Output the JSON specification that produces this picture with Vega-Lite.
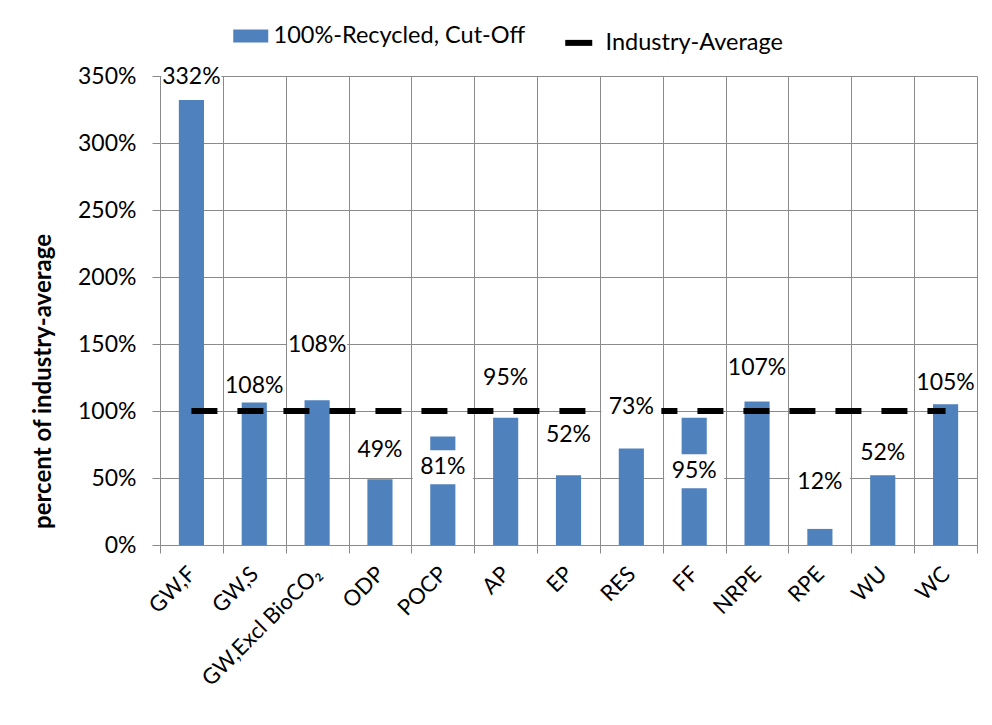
{
  "$schema": "https://vega.github.io/schema/vega-lite/v6.json",
  "width": 817,
  "height": 469,
  "autosize": {"type": "none"},
  "padding": {"left": 160, "top": 76, "right": 15, "bottom": 180},
  "background": "white",
  "config": {
    "font": "Lato",
    "view": {"stroke": null},
    "axis": {
      "labelFont": "Lato",
      "labelFontSize": 23,
      "labelColor": "black",
      "gridColor": "#8a8a8a",
      "gridWidth": 1,
      "domainColor": "#8a8a8a",
      "tickColor": "#8a8a8a",
      "tickSize": 8
    }
  },
  "data": {
    "values": [
      {"cat": "GW,F", "value": 332, "label": "332%", "lpos": 349},
      {"cat": "GW,S", "value": 107, "label": "108%", "lpos": 119},
      {"cat": "GW,Excl BioCO₂", "value": 108, "label": "108%", "lpos": 149},
      {"cat": "ODP", "value": 49, "label": "49%", "lpos": 71},
      {"cat": "POCP", "value": 81, "label": "81%", "lpos": 58},
      {"cat": "AP", "value": 95, "label": "95%", "lpos": 125},
      {"cat": "EP", "value": 52, "label": "52%", "lpos": 82},
      {"cat": "RES", "value": 72, "label": "73%", "lpos": 103},
      {"cat": "FF", "value": 95, "label": "95%", "lpos": 55},
      {"cat": "NRPE", "value": 107, "label": "107%", "lpos": 132},
      {"cat": "RPE", "value": 12, "label": "12%", "lpos": 47},
      {"cat": "WU", "value": 52, "label": "52%", "lpos": 69},
      {"cat": "WC", "value": 105, "label": "105%", "lpos": 121}
    ]
  },
  "encoding": {
    "x": {
      "field": "cat",
      "type": "nominal",
      "sort": null,
      "scale": {"paddingInner": 0, "paddingOuter": 0},
      "axis": {
        "title": null,
        "tickBand": "extent",
        "grid": true,
        "labelAngle": -45,
        "labelFontSize": 22,
        "labelPadding": 10,
        "labelOffset": -7
      }
    }
  },
  "layer": [
    {
      "mark": {"type": "bar", "width": {"band": 0.4}},
      "encoding": {
        "y": {
          "field": "value",
          "type": "quantitative",
          "scale": {"domain": [0, 350], "nice": false},
          "axis": {
            "title": "percent of industry-average",
            "titleFont": "Lato",
            "titleFontSize": 24,
            "titleFontWeight": "bold",
            "titleColor": "black",
            "titlePadding": 22,
            "titleY": 305,
            "values": [0, 50, 100, 150, 200, 250, 300, 350],
            "labelExpr": "datum.value + '%'",
            "labelPadding": 16,
            "grid": true
          }
        },
        "color": {
          "datum": "100%-Recycled, Cut-Off",
          "scale": {
            "domain": ["100%-Recycled, Cut-Off", "Industry-Average"],
            "range": ["#4F81BD", "black"]
          },
          "legend": {
            "title": null,
            "orient": "none",
            "legendX": 79,
            "legendY": -52,
            "direction": "horizontal",
            "symbolType": "stroke",
            "symbolSize": 1225,
            "symbolStrokeWidth": 13,
            "labelFont": "Lato",
            "labelFontSize": 23.5,
            "labelColor": "black",
            "labelLimit": 400,
            "labelOffset": 11,
            "columnPadding": 27,
            "encode": {
              "symbols": {
                "update": {
                  "stroke": {"signal": "scale('color', datum.value)"},
                  "strokeWidth": {"signal": "datum.value === 'Industry-Average' ? 6 : 13"},
                  "strokeDash": {"signal": "datum.value === 'Industry-Average' ? [27, 60] : [200, 0]"},
                  "size": {"value": 1225}
                }
              }
            }
          }
        }
      }
    },
    {
      "mark": {"type": "line", "strokeDash": [26, 20], "strokeWidth": 6},
      "encoding": {
        "y": {"datum": 100, "type": "quantitative"},
        "order": {"value": null},
        "color": {"datum": "Industry-Average"}
      }
    },
    {
      "mark": {"type": "tick", "orient": "horizontal", "color": "white", "opacity": 1, "size": 60, "thickness": 34},
      "encoding": {
        "y": {"field": "lpos", "type": "quantitative"}
      }
    },
    {
      "mark": {"type": "text", "font": "Lato", "fontSize": 23, "color": "black", "baseline": "middle", "align": "center"},
      "encoding": {
        "y": {"field": "lpos", "type": "quantitative"},
        "text": {"field": "label"}
      }
    }
  ]
}
